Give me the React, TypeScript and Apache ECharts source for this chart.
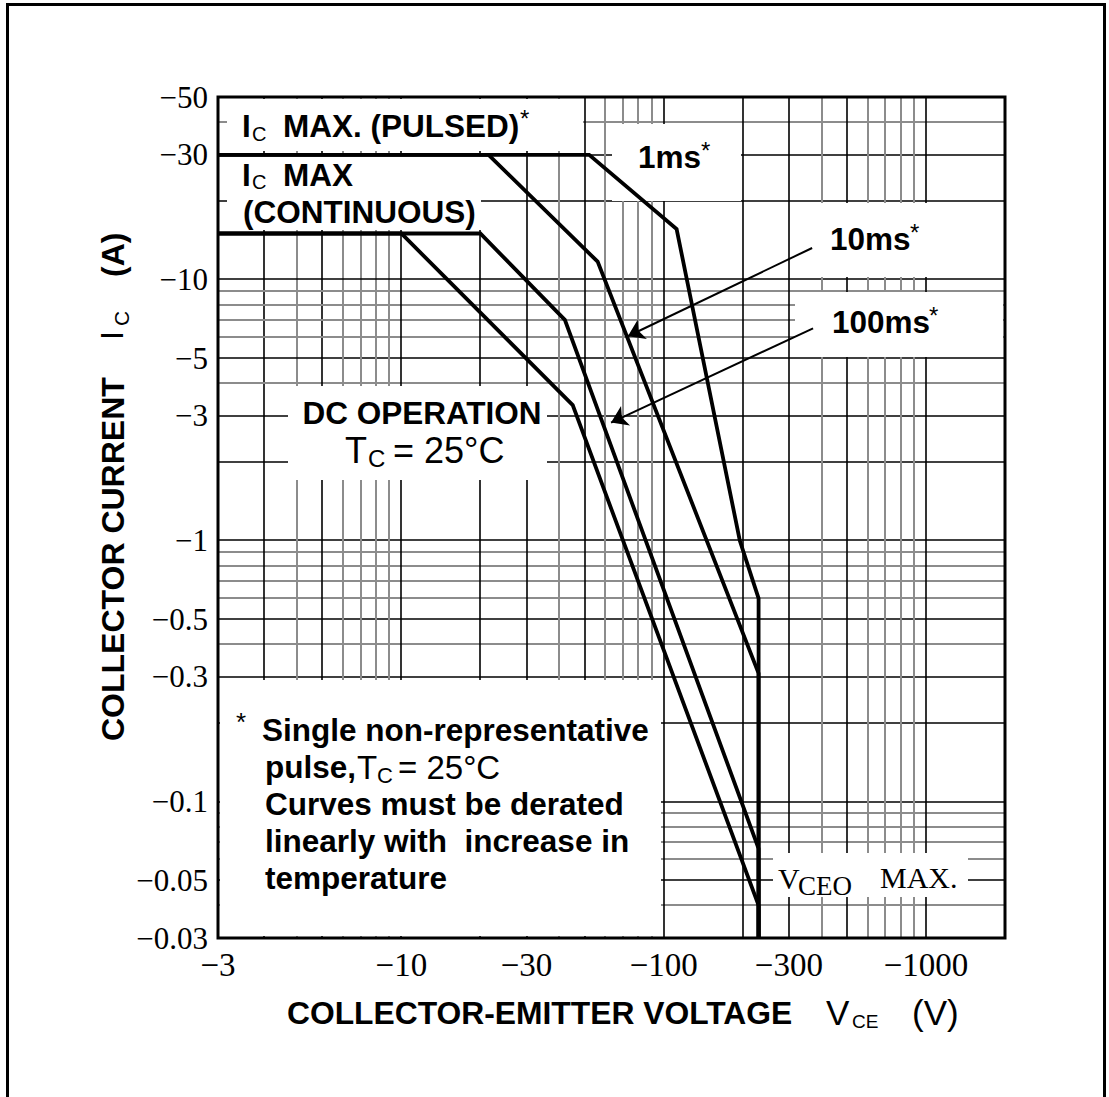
import React, { useEffect, useRef } from "react";
import * as echarts from "echarts";

// ---- Axis ranges (magnitudes; the datasheet values are negative, PNP device) ----
const X_MIN = 2;
const X_MAX = 2000;
const Y_MIN = 0.03;
const Y_MAX = 50;

// Tick labels (the reference prints "−3" at the left frame edge)
const xTickValues = [3, 10, 30, 100, 300, 1000];
const xTickLabels = ["−3", "−10", "−30", "−100", "−300", "−1000"];
const yTickValues = [50, 30, 10, 5, 3, 1, 0.5, 0.3, 0.1, 0.05, 0.03];
const yTickLabels = ["−50", "−30", "−10", "−5", "−3", "−1", "−0.5", "−0.3", "−0.1", "−0.05", "−0.03"];

// Log-paper grid
const gridMantissas = [1, 2, 3, 4, 5, 6, 7, 8, 9];
const majorMantissas = [1, 2, 3, 5];
const gridDecades = [0.01, 0.1, 1, 10, 100, 1000];

// ---- Safe operating area curves: |VCE| (V) and |IC| (A) ----
const dcVce = [2, 10, 45, 230, 230];
const dcIc = [15, 15, 3.3, 0.04, 0.03];
const ms100Vce = [2, 20, 42, 230, 230];
const ms100Ic = [15, 15, 7, 0.066, 0.03];
const ms10Vce = [2, 21.5, 56, 230, 230];
const ms10Ic = [30, 30, 11.7, 0.31, 0.03];
const ms1Vce = [2, 52, 112, 195, 230, 230];
const ms1Ic = [30, 30, 15.6, 1.0, 0.6, 0.03];

// Annotation arrows: [tail VCE, tail IC, head VCE, head IC]
const arrow10ms = [368, 13.2, 73, 6.06];
const arrow100ms = [371, 6.5, 63, 2.83];

const L = (v: number) => Math.log10(v);

const SANS = "'Liberation Sans', Arial, Helvetica, sans-serif";
const SERIF = "'Liberation Serif', 'Times New Roman', serif";

// layout
const GL = 218, GT = 97, GW = 787, GH = 841;

function labelFor(val: number, positions: number[], labels: string[]) {
  const i = positions.findIndex((p) => Math.abs(p - val) < 1e-6);
  return i >= 0 ? labels[i] : "";
}

type TOpts = { weight?: string; family?: string; align?: string; rot?: number };
function txt(text: string, x: number, y: number, size: number, o: TOpts = {}) {
  return {
    type: "text",
    x,
    y,
    z: 10,
    silent: true,
    rotation: o.rot || 0,
    style: {
      text,
      fill: "#000",
      fontSize: size,
      fontWeight: o.weight || "bold",
      fontFamily: o.family || SANS,
      align: o.align || "left",
      verticalAlign: "middle",
    },
  };
}

export default function App() {
  const ref = useRef<HTMLDivElement>(null);

  useEffect(() => {
    if (!ref.current) return;
    const chart = echarts.init(ref.current, null, { renderer: "svg" });

    const gridLineData: number[][] = [];
    for (const d of gridDecades) {
      for (const m of gridMantissas) {
        const v = +(m * d).toPrecision(6);
        const major = majorMantissas.includes(m) ? 1 : 0;
        if (v > X_MIN && v < X_MAX) gridLineData.push([L(v), L(1), 0, major]);
        if (v > Y_MIN && v < Y_MAX) gridLineData.push([L(100), L(v), 1, major]);
      }
    }

    const xLabelPos = xTickValues.map((v, i) => (i === 0 ? L(X_MIN) : L(v)));
    const yLabelPos = yTickValues.map(L);

    const curve = (name: string, V: number[], I: number[]) => ({
      type: "line",
      name,
      data: V.map((v, i) => [L(v), L(I[i])]),
      showSymbol: false,
      symbol: "none",
      silent: true,
      z: 3,
      lineStyle: { color: "#000", width: 3.8, join: "miter" },
    });

    const arrow = (a: number[]) => ({
      coords: [
        [L(a[0]), L(a[1])],
        [L(a[2]), L(a[3])],
      ],
    });

    // white label boxes that interrupt the grid: [x, y, w, h]
    const labelBoxes = [
      [227, 99, 356, 52],
      [227, 154, 254, 76],
      [612, 124, 129, 77],
      [795, 203, 208, 74],
      [795, 292, 208, 65],
      [288, 386, 259, 94],
      [220, 680, 441, 256],
      [773, 853, 195, 44],
    ];

    const R = Math.PI / 2;
    const texts = [
      // Ic max pulsed
      txt("I", 242, 126, 31.5),
      txt("C", 252, 134, 20, { weight: "normal" }),
      txt("MAX. (PULSED)", 283, 126, 31.5),
      txt("*", 520, 118, 24, { weight: "normal" }),
      // Ic max continuous
      txt("I", 242, 175, 31.5),
      txt("C", 252, 182, 20, { weight: "normal" }),
      txt("MAX", 283, 175, 31.5),
      txt("(CONTINUOUS)", 243, 212, 31.5),
      // pulse labels
      txt("1ms", 638, 157, 31.5),
      txt("*", 701, 150, 24, { weight: "normal" }),
      txt("10ms", 830, 239, 31.5),
      txt("*", 910, 232, 24, { weight: "normal" }),
      txt("100ms", 832, 322, 31.5),
      txt("*", 929, 315, 24, { weight: "normal" }),
      // DC operation
      txt("DC OPERATION", 422, 413, 31.5, { align: "center" }),
      txt("T", 345, 450, 36, { weight: "normal" }),
      txt("C", 368, 458, 24, { weight: "normal" }),
      txt("= 25°C", 393, 450, 36, { weight: "normal" }),
      // footnote
      txt("*", 236, 722, 26, { weight: "normal" }),
      txt("Single non-representative", 262, 730, 31.5),
      txt("pulse,", 265, 767, 31.5),
      txt("T", 357, 767, 33, { weight: "normal" }),
      txt("C", 377, 775, 22, { weight: "normal" }),
      txt("= 25°C", 398, 767, 33, { weight: "normal" }),
      txt("Curves must be derated", 265, 804, 31.5),
      txt("linearly with  increase in", 265, 841, 31.5),
      txt("temperature", 265, 878, 31.5),
      // VCEO max
      txt("V", 778, 878, 30, { weight: "normal", family: SERIF }),
      txt("CEO", 798, 886, 27, { weight: "normal", family: SERIF }),
      txt("MAX.", 880, 877, 30, { weight: "normal", family: SERIF }),
      // x axis title
      txt("COLLECTOR-EMITTER VOLTAGE", 287, 1013, 31.8),
      txt("V", 826, 1012, 35, { weight: "normal" }),
      txt("CE", 852, 1021, 19, { weight: "normal" }),
      txt("(V)", 912, 1012, 35, { weight: "normal" }),
      // y axis title (rotated)
      txt("COLLECTOR CURRENT", 113, 741, 32, { rot: R }),
      txt("I", 112, 340, 32, { weight: "normal", rot: R }),
      txt("C", 121, 326, 21, { weight: "normal", rot: R }),
      txt("(A)", 113, 277, 32, { rot: R }),
    ];

    const option: any = {
      animation: false,
      backgroundColor: "#fff",
      grid: { left: GL, top: GT, width: GW, height: GH, show: false, outerBoundsMode: "none" },
      xAxis: {
        type: "value",
        min: L(X_MIN),
        max: L(X_MAX),
        axisLine: { show: false },
        axisTick: { show: false },
        splitLine: { show: false },
        axisLabel: {
          customValues: xLabelPos,
          formatter: (v: number) => labelFor(v, xLabelPos, xTickLabels),
          margin: 10,
          fontFamily: SERIF,
          fontSize: 33,
          color: "#000",
        },
      },
      yAxis: {
        type: "value",
        min: L(Y_MIN),
        max: L(Y_MAX),
        axisLine: { show: false },
        axisTick: { show: false },
        splitLine: { show: false },
        axisLabel: {
          customValues: yLabelPos,
          formatter: (v: number) => labelFor(v, yLabelPos, yTickLabels),
          margin: 10,
          fontFamily: SERIF,
          fontSize: 31,
          color: "#000",
        },
      },
      series: [
        {
          type: "custom",
          name: "grid",
          silent: true,
          z: 1,
          data: gridLineData,
          renderItem: (_p: any, api: any) => {
            const vertical = api.value(2) === 0;
            const major = api.value(3) === 1;
            const a = vertical
              ? api.coord([api.value(0), L(Y_MIN)])
              : api.coord([L(X_MIN), api.value(1)]);
            const b = vertical
              ? api.coord([api.value(0), L(Y_MAX)])
              : api.coord([L(X_MAX), api.value(1)]);
            const rx = (x: number) => Math.round(x);
            return {
              type: "line",
              shape: {
                x1: vertical ? rx(a[0]) : a[0],
                y1: vertical ? a[1] : rx(a[1]),
                x2: vertical ? rx(b[0]) : b[0],
                y2: vertical ? b[1] : rx(b[1]),
              },
              style: {
                stroke: major ? "#000" : "#8c8c8c",
                lineWidth: major ? 1.6 : 2,
              },
            };
          },
        },
        curve("DC", dcVce, dcIc),
        curve("100ms", ms100Vce, ms100Ic),
        curve("10ms", ms10Vce, ms10Ic),
        curve("1ms", ms1Vce, ms1Ic),
        {
          type: "lines",
          coordinateSystem: "cartesian2d",
          silent: true,
          z: 4,
          symbol: ["none", "arrow"],
          symbolSize: 16,
          lineStyle: { color: "#000", width: 2, opacity: 1, curveness: 0 },
          data: [arrow(arrow10ms), arrow(arrow100ms)],
        },
      ],
      graphic: [
        ...labelBoxes.map((b) => ({
          type: "rect",
          z: 2,
          silent: true,
          shape: { x: b[0], y: b[1], width: b[2], height: b[3] },
          style: { fill: "#fff" },
        })),
        ...texts,
        {
          type: "rect",
          z: 12,
          silent: true,
          shape: { x: GL, y: GT, width: GW, height: GH },
          style: { fill: "none", stroke: "#000", lineWidth: 3 },
        },
        {
          type: "rect",
          z: 12,
          silent: true,
          shape: { x: 7.5, y: 4.5, width: 1097, height: 1100 },
          style: { fill: "none", stroke: "#000", lineWidth: 3 },
        },
      ],
    };

    chart.setOption(option);
    return () => chart.dispose();
  }, []);

  return (
    <div
      ref={ref}
      style={{ position: "absolute", left: 0, top: 0, width: 1109, height: 1097, background: "#fff" }}
    />
  );
}
